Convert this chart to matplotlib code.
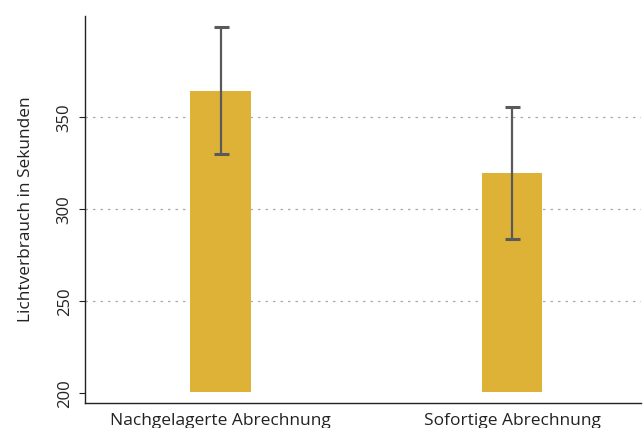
import matplotlib
matplotlib.use("Agg")
import matplotlib.pyplot as plt

categories = ["Nachgelagerte Abrechnung", "Sofortige Abrechnung"]
means = [364.3, 319.7]
ci_low = [329.9, 283.7]
ci_high = [398.9, 355.4]
yticks = [200, 250, 300, 350]
ylabel = "Lichtverbrauch in Sekunden"

plt.rcParams['font.family'] = ['Open Sans', 'DejaVu Sans']

fig = plt.figure(figsize=(6.43, 4.28), dpi=100)
ax = fig.add_axes([84.5/643, 1 - 403.3/428, (641-84.5)/643, (403.3-16)/428])

base = 201
x = list(range(len(categories)))
heights = [m - base for m in means]
ax.bar(x, heights, bottom=base, width=0.209, color="#DDB236", zorder=2)
yerr = [[m - l for m, l in zip(means, ci_low)], [h - m for m, h in zip(means, ci_high)]]
ax.errorbar(x, means, yerr=yerr, fmt="none", ecolor="#5a5a5a", elinewidth=1.6,
            capsize=5.4, capthick=2.2, zorder=3)

ax.set_xlim(-0.4666, 1.4425)
ax.set_ylim(194.6, 405)
ax.set_yticks(yticks)
ax.set_yticklabels([str(t) for t in yticks], rotation=90, va="center", fontsize=12, color="#222222")
ax.set_xticks(x)
ax.set_xticklabels(categories, fontsize=12.5, color="#222222")
ax.tick_params(axis="x", length=0, pad=7)
ax.tick_params(axis="y", length=4.5, width=0.8, color="#222222", pad=4)
for t in yticks:
    if t != 200:
        ax.axhline(t, color="#aaaaaa", linestyle=(0, (2, 4)), linewidth=0.9, zorder=1)
ax.set_ylabel(ylabel, fontsize=12.4, color="#222222", labelpad=16)
for s in ["top", "right"]:
    ax.spines[s].set_visible(False)
for s in ["left", "bottom"]:
    ax.spines[s].set_color("#222222")
    ax.spines[s].set_linewidth(1.0)

fig.savefig("out.png", dpi=100)
